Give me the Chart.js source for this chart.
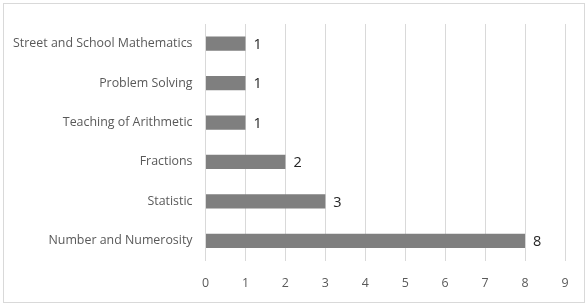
<!DOCTYPE html>
<html><head><meta charset="utf-8">
<script src="https://cdn.jsdelivr.net/npm/chart.js@4/dist/chart.umd.min.js"></script>
<style>html,body{margin:0;padding:0;background:#fff}#wrap{width:588px;height:306px;position:relative}</style>
</head><body><div id="wrap"><canvas id="c" width="588" height="306"></canvas></div>
<script>
const categories = ["Street and School Mathematics","Problem Solving","Teaching of Arithmetic","Fractions","Statistic","Number and Numerosity"];
const values = [1,1,1,2,3,8];
const xTicks = [0,1,2,3,4,5,6,7,8,9];
const FONT = "'Open Sans',sans-serif";

const framePlugin = {
  id:'frame',
  beforeDraw(chart){
    const ctx=chart.ctx;ctx.save();ctx.fillStyle='#fff';ctx.fillRect(0,0,chart.width,chart.height);
    ctx.strokeStyle='#d9d9d9';ctx.lineWidth=1;ctx.strokeRect(3.5,3.5,581,299);ctx.restore();
  }
};
const labelPlugin = {
  id:'vals',
  afterDatasetsDraw(chart){
    const ctx=chart.ctx;ctx.save();
    ctx.font="14.5px "+FONT;ctx.fillStyle='#262626';ctx.textAlign='left';ctx.textBaseline='middle';
    chart.getDatasetMeta(0).data.forEach((el,i)=>{
      ctx.fillText(String(values[i]), el.x+8, el.y+1);
    });
    ctx.restore();
  }
};
new Chart(document.getElementById('c'),{
  type:'bar',
  data:{labels:categories,datasets:[{data:values,backgroundColor:'#7f7f7f',borderWidth:0,categoryPercentage:1,barPercentage:0.36}]},
  options:{
    indexAxis:'y',responsive:false,animation:false,
    layout:{padding:{left:0,top:24,right:23,bottom:0}},
    plugins:{legend:{display:false},tooltip:{enabled:false}},
    scales:{
      x:{min:0,max:9,afterBuildTicks(s){s.ticks=xTicks.map(v=>({value:v}));},
        grid:{color:'#d9d9d9',drawTicks:false},border:{display:false},
        ticks:{padding:16,color:'#595959',font:{family:FONT,size:12.4}},
        afterFit(s){s.height=45.5;}},
      y:{grid:{display:false,drawTicks:false},border:{display:false},
        ticks:{padding:13,color:'#595959',font:{family:FONT,size:12.4}},
        afterFit(s){s.width=205.5;}}
    }
  },
  plugins:[framePlugin,labelPlugin]
});
</script></body></html>
